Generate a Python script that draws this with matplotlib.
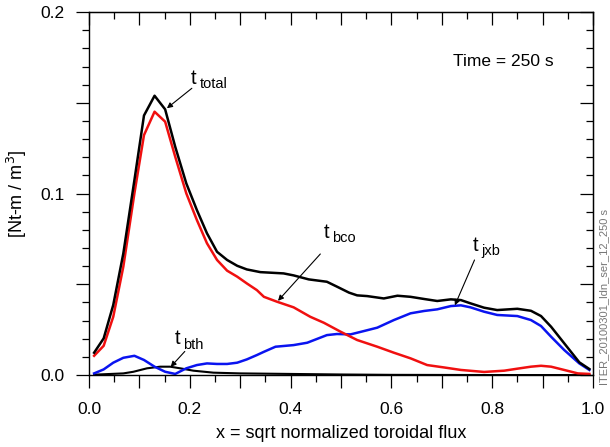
import matplotlib
matplotlib.use('Agg')
import matplotlib.pyplot as plt
from matplotlib.ticker import MultipleLocator, FuncFormatter

plt.rcParams['font.family'] = ['Liberation Sans', 'DejaVu Sans']

# total torque (black)
x_tot = [0.010, 0.029, 0.048, 0.068, 0.090, 0.109, 0.130, 0.151, 0.171, 0.193,
         0.214, 0.234, 0.254, 0.274, 0.294, 0.313, 0.340, 0.386, 0.406, 0.436,
         0.472, 0.492, 0.516, 0.532, 0.552, 0.585, 0.612, 0.638, 0.665, 0.691,
         0.718, 0.738, 0.757, 0.784, 0.810, 0.850, 0.877, 0.897, 0.917, 0.943,
         0.973, 0.993]
t_total = [0.0123, 0.0202, 0.0386, 0.0670, 0.1074, 0.1430, 0.1539, 0.1464, 0.1258, 0.1056,
           0.0909, 0.0781, 0.0679, 0.0634, 0.0602, 0.0582, 0.0567, 0.0560, 0.0549, 0.0527,
           0.0514, 0.0487, 0.0454, 0.0439, 0.0435, 0.0422, 0.0437, 0.0431, 0.0419, 0.0408,
           0.0417, 0.0413, 0.0395, 0.0371, 0.0358, 0.0365, 0.0354, 0.0325, 0.0266, 0.0175,
           0.0070, 0.0033]

# collisional beam torque (red)
x_bco = [0.010, 0.029, 0.048, 0.068, 0.090, 0.109, 0.130, 0.151, 0.171, 0.193,
         0.214, 0.234, 0.254, 0.274, 0.294, 0.313, 0.333, 0.347, 0.373, 0.406,
         0.439, 0.466, 0.499, 0.532, 0.572, 0.605, 0.638, 0.671, 0.704, 0.738,
         0.784, 0.824, 0.850, 0.877, 0.897, 0.917, 0.943, 0.970, 0.993]
t_bco = [0.0106, 0.0161, 0.0321, 0.0597, 0.1001, 0.1322, 0.1451, 0.1396, 0.1203, 0.1001,
         0.0854, 0.0726, 0.0634, 0.0575, 0.0542, 0.0505, 0.0468, 0.0431, 0.0404, 0.0373,
         0.0321, 0.0288, 0.0239, 0.0193, 0.0156, 0.0123, 0.0092, 0.0055, 0.0042, 0.0028,
         0.0017, 0.0024, 0.0035, 0.0046, 0.0051, 0.0046, 0.0028, 0.0009, 0.0006]

# jxb torque (blue)
x_jxb = [0.010, 0.029, 0.048, 0.068, 0.090, 0.109, 0.130, 0.151, 0.171, 0.193,
         0.214, 0.234, 0.254, 0.274, 0.294, 0.313, 0.333, 0.347, 0.370, 0.406,
         0.433, 0.472, 0.492, 0.519, 0.545, 0.572, 0.605, 0.638, 0.665, 0.691,
         0.718, 0.738, 0.757, 0.784, 0.810, 0.850, 0.877, 0.897, 0.917, 0.943,
         0.973, 0.993]
t_jxb = [0.0009, 0.0031, 0.0068, 0.0095, 0.0106, 0.0083, 0.0046, 0.0018, 0.0006, 0.0037,
         0.0055, 0.0064, 0.0061, 0.0061, 0.0068, 0.0086, 0.0110, 0.0128, 0.0156, 0.0165,
         0.0178, 0.0220, 0.0226, 0.0224, 0.0242, 0.0261, 0.0303, 0.0340, 0.0353, 0.0362,
         0.0380, 0.0384, 0.0373, 0.0349, 0.0331, 0.0325, 0.0303, 0.0270, 0.0211, 0.0138,
         0.0064, 0.0028]

# thermal torque (thin black near zero)
x_bth = [0.010, 0.068, 0.088, 0.115, 0.141, 0.161, 0.181, 0.207, 0.247, 0.300,
         0.400, 0.500, 0.600, 0.800, 0.993]
t_bth = [0.0002, 0.0009, 0.0018, 0.0037, 0.0046, 0.0046, 0.0037, 0.0024, 0.0013, 0.0009,
         0.0006, 0.0003, 0.0001, 0.0, 0.0]

fig = plt.figure(figsize=(6.10, 4.47), dpi=100)
ax = fig.add_axes([0.146, 0.161, 0.826, 0.812])

ax.plot(x_bth, t_bth, color='black', lw=1.5)
ax.plot(x_jxb, t_jxb, color='#0a14f0', lw=1.8)
ax.plot(x_bco, t_bco, color='#f01010', lw=1.8)
ax.plot(x_tot, t_total, color='black', lw=1.8)

ax.set_xlim(0, 1.0)
ax.set_ylim(0, 0.2)

# bottom / left ticks point outward
ax.xaxis.set_major_locator(MultipleLocator(0.1))
ax.xaxis.set_minor_locator(MultipleLocator(0.05))
ax.xaxis.set_major_formatter(FuncFormatter(
    lambda v, p: '%.1f' % v if round(v * 10) % 2 == 0 else ''))
ax.yaxis.set_major_locator(MultipleLocator(0.05))
ax.yaxis.set_minor_locator(MultipleLocator(0.01))
ax.yaxis.set_major_formatter(FuncFormatter(
    lambda v, p: '%.1f' % v if round(v * 100) % 10 == 0 else ''))
ax.tick_params(which='both', direction='out', top=False, right=False,
               width=0.9, labelsize=12.5)
ax.tick_params(which='major', length=9.5)
ax.tick_params(which='minor', length=5)
ax.tick_params(axis='x', pad=10)
ax.tick_params(axis='y', pad=8)

# top / right ticks point inward
secx = ax.secondary_xaxis('top')
secx.xaxis.set_major_locator(MultipleLocator(0.1))
secx.xaxis.set_minor_locator(MultipleLocator(0.05))
secx.tick_params(which='both', direction='in', labeltop=False, width=0.9)
secx.tick_params(which='major', length=9.5)
secx.tick_params(which='minor', length=5)
secy = ax.secondary_yaxis('right')
secy.yaxis.set_major_locator(MultipleLocator(0.05))
secy.yaxis.set_minor_locator(MultipleLocator(0.01))
secy.tick_params(which='both', direction='in', labelright=False, width=0.9)
secy.tick_params(which='major', length=9.5)
secy.tick_params(which='minor', length=5)

for s in ax.spines.values():
    s.set_linewidth(1.0)

ax.set_xlabel('x = sqrt normalized toroidal flux', fontsize=13, labelpad=6)
ax.set_ylabel('[Nt-m / m$^3$]', fontsize=13, labelpad=8)

ax.text(0.823, 0.1725, 'Time = 250 s', fontsize=12.5, ha='center', va='center')

# labels with arrows
arrow = dict(arrowstyle='-|>', color='black', lw=0.8, mutation_scale=8,
             shrinkA=0, shrinkB=0)
labels = [('total', (0.207, 0.1636), (0.204, 0.158), (0.1545, 0.147)),
          ('bco', (0.471, 0.0788), (0.459, 0.0667), (0.375, 0.0409)),
          ('jxb', (0.767, 0.0716), (0.765, 0.0634), (0.726, 0.0384)),
          ('bth', (0.175, 0.0200), (0.190, 0.0130), (0.162, 0.0045))]
for sub, (tx, ty), tail, head in labels:
    ax.text(tx, ty, 't', fontsize=14.5, ha='center', va='center')
    ax.text(tx + 0.012, ty - 0.0035, sub, fontsize=10.5, ha='left', va='center')
    ax.annotate('', xy=head, xytext=tail, arrowprops=arrow)

fig.text(0.99, 0.139, 'ITER_20100301_ldn_ser_12_250 s', rotation=90, fontsize=8,
         color='#777777', ha='center', va='bottom')

fig.savefig('out.png', dpi=100)
